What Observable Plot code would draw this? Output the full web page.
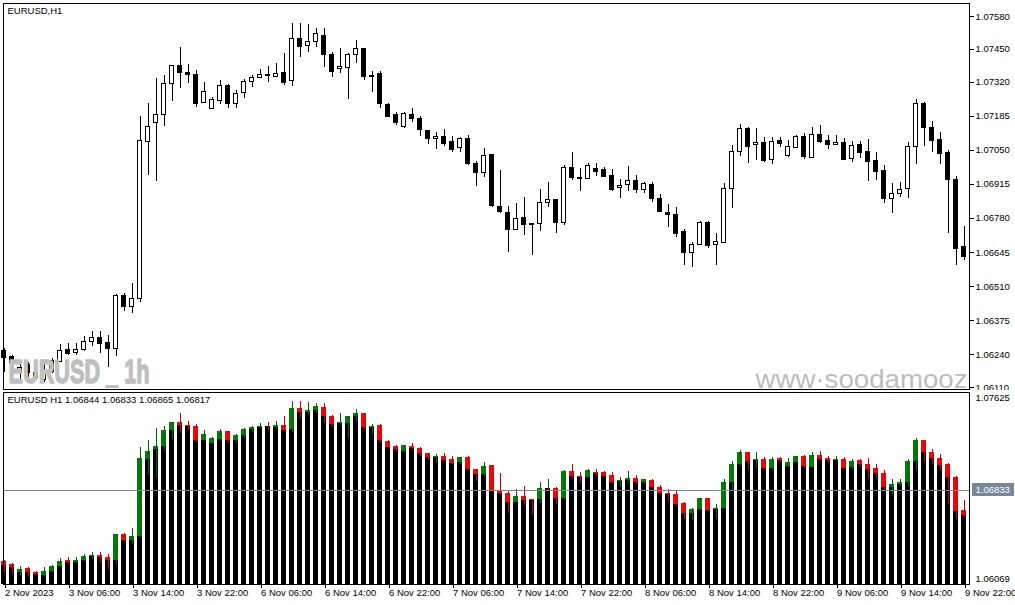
<!DOCTYPE html>
<html><head><meta charset="utf-8">
<script src="https://cdn.jsdelivr.net/npm/d3@7"></script>
<script src="https://cdn.jsdelivr.net/npm/@observablehq/plot@0.6"></script>
<style>
body{margin:0;background:#fff;}
#wrap{position:relative;width:1015px;height:605px;overflow:hidden;background:#fff}
#top,#bot{position:absolute;left:0}
#top{top:0}
#bot{top:390px}
svg rect, svg line, svg path{shape-rendering:crispEdges}
</style></head>
<body><div id="wrap"><div id="top"></div><div id="bot"></div></div>
<script>
// ---- data (EURUSD H1, 2 Nov 22:00 .. 9 Nov 22:00) ----
const opens = [1.06256,1.06232,1.06169,1.06201,1.06169,1.06141,1.06173,1.06213,1.06260,1.06248,
1.06260,1.06292,1.06308,1.06288,1.06264,1.06474,1.06427,1.06462,1.07084,1.07160,
1.07191,1.07314,1.07385,1.07358,1.07350,1.07239,1.07215,1.07247,1.07306,1.07235,
1.07278,1.07322,1.07338,1.07350,1.07342,1.07358,1.07326,1.07492,1.07465,1.07477,
1.07504,1.07429,1.07370,1.07377,1.07429,1.07453,1.07342,1.07354,1.07231,1.07191,
1.07144,1.07191,1.07175,1.07128,1.07096,1.07104,1.07084,1.07057,1.07096,1.06997,
1.06958,1.07033,1.06827,1.06803,1.06736,1.06783,1.06756,1.06756,1.06843,1.06851,
1.06763,1.06981,1.06942,1.06938,1.06977,1.06973,1.06950,1.06902,1.06914,1.06930,
1.06894,1.06914,1.06855,1.06803,1.06795,1.06728,1.06641,1.06676,1.06763,1.06676,
1.06684,1.06898,1.07045,1.07136,1.07072,1.07080,1.07013,1.07088,1.07029,1.07057,
1.07104,1.07021,1.07112,1.07088,1.07072,1.07080,1.07017,1.07072,1.07045,1.07009,
1.06969,1.06855,1.06878,1.06898,1.07064,1.07235,1.07140,1.07092,1.07041,1.06934,
1.06668];
const highs = [1.06264,1.06236,1.06217,1.06209,1.06173,1.06209,1.06225,1.06280,1.06284,1.06284,
1.06312,1.06332,1.06332,1.06316,1.06478,1.06482,1.06522,1.07183,1.07235,1.07334,
1.07346,1.07385,1.07457,1.07389,1.07366,1.07318,1.07259,1.07326,1.07310,1.07286,
1.07330,1.07346,1.07370,1.07381,1.07393,1.07433,1.07552,1.07552,1.07548,1.07532,
1.07532,1.07437,1.07453,1.07433,1.07485,1.07453,1.07362,1.07362,1.07235,1.07199,
1.07199,1.07215,1.07183,1.07128,1.07120,1.07132,1.07104,1.07100,1.07108,1.07005,
1.07057,1.07033,1.06969,1.06827,1.06839,1.06862,1.06759,1.06894,1.06922,1.06855,
1.06989,1.07041,1.06977,1.06997,1.06997,1.06981,1.06973,1.06934,1.06985,1.06950,
1.06922,1.06922,1.06874,1.06835,1.06823,1.06736,1.06684,1.06767,1.06767,1.06720,
1.06918,1.07068,1.07152,1.07140,1.07136,1.07100,1.07100,1.07100,1.07088,1.07108,
1.07116,1.07140,1.07148,1.07108,1.07108,1.07096,1.07084,1.07084,1.07092,1.07041,
1.06989,1.06918,1.06922,1.07080,1.07251,1.07239,1.07164,1.07120,1.07049,1.06946,
1.06748];
const lows = [1.06169,1.06161,1.06141,1.06129,1.06141,1.06129,1.06165,1.06209,1.06236,1.06236,
1.06252,1.06272,1.06244,1.06189,1.06232,1.06411,1.06403,1.06447,1.06950,1.06926,
1.07144,1.07243,1.07294,1.07314,1.07219,1.07235,1.07211,1.07231,1.07215,1.07215,
1.07255,1.07298,1.07334,1.07318,1.07338,1.07306,1.07302,1.07417,1.07437,1.07457,
1.07377,1.07338,1.07354,1.07251,1.07393,1.07326,1.07278,1.07215,1.07183,1.07148,
1.07136,1.07160,1.07104,1.07072,1.07053,1.07064,1.07041,1.07041,1.06989,1.06906,
1.06942,1.06823,1.06799,1.06645,1.06736,1.06712,1.06633,1.06728,1.06823,1.06720,
1.06752,1.06930,1.06886,1.06934,1.06946,1.06942,1.06886,1.06858,1.06886,1.06878,
1.06878,1.06843,1.06803,1.06744,1.06704,1.06593,1.06585,1.06672,1.06660,1.06593,
1.06680,1.06819,1.07025,1.06997,1.07009,1.07001,1.06993,1.07061,1.07021,1.07057,
1.07013,1.07021,1.07076,1.07053,1.07068,1.07013,1.07001,1.07017,1.06926,1.06930,
1.06839,1.06799,1.06862,1.06858,1.06993,1.07064,1.07041,1.06993,1.06720,1.06593,
1.06613];
const closes = [1.06225,1.06209,1.06189,1.06169,1.06149,1.06173,1.06217,1.06256,1.06244,1.06260,
1.06292,1.06308,1.06284,1.06264,1.06474,1.06427,1.06462,1.07088,1.07144,1.07191,
1.07314,1.07385,1.07358,1.07350,1.07235,1.07282,1.07251,1.07306,1.07235,1.07274,
1.07322,1.07338,1.07350,1.07346,1.07354,1.07318,1.07492,1.07461,1.07477,1.07509,
1.07429,1.07362,1.07381,1.07429,1.07453,1.07342,1.07346,1.07235,1.07183,1.07160,
1.07195,1.07175,1.07132,1.07096,1.07104,1.07076,1.07053,1.07096,1.06997,1.06958,
1.07029,1.06831,1.06807,1.06736,1.06779,1.06752,1.06752,1.06843,1.06851,1.06763,
1.06981,1.06942,1.06938,1.06989,1.06965,1.06946,1.06894,1.06910,1.06930,1.06894,
1.06918,1.06855,1.06807,1.06795,1.06720,1.06641,1.06676,1.06763,1.06672,1.06688,
1.06898,1.07045,1.07136,1.07064,1.07080,1.07009,1.07084,1.07076,1.07061,1.07104,
1.07025,1.07112,1.07084,1.07072,1.07080,1.07013,1.07068,1.07041,1.07005,1.06965,
1.06855,1.06878,1.06894,1.07064,1.07235,1.07140,1.07088,1.07037,1.06934,1.06660,
1.06629];

const topTicks = [1.07580,1.07450,1.07320,1.07185,1.07050,1.06915,1.06780,1.06645,1.06510,1.06375,1.06240,1.06110];
const xTickIdx = [0,8,16,24,32,40,48,56,64,72,80,88,96,104,112,120];
const xTickLabels = ["2 Nov 2023","3 Nov 06:00","3 Nov 14:00","3 Nov 22:00","6 Nov 06:00","6 Nov 14:00",
"6 Nov 22:00","7 Nov 06:00","7 Nov 14:00","7 Nov 22:00","8 Nov 06:00","8 Nov 14:00",
"8 Nov 22:00","9 Nov 06:00","9 Nov 14:00","9 Nov 22:00"];
const topTitle = "EURUSD,H1";
const subTitle = "EURUSD H1 1.06844 1.06833 1.06865 1.06817";
const subMax = 1.07625, subMin = 1.06069, currentPrice = 1.06833;
const watermark1 = "EURUSD _ 1h";
const watermark2 = "www\u00b7soodamooz";

// ---- build ----
const bars = d3.range(opens.length).map(i => ({i, o: opens[i], h: highs[i], l: lows[i], c: closes[i]}));
const up = d => d.c >= d.o;
const xDomain = [-0.0625, 120.6875];
const style = {fontFamily: "'Liberation Sans', Arial, sans-serif", fontSize: "9.5px", color: "black", background: "white", overflow: "visible"};

const topPlot = Plot.plot({
  width: 1015, height: 390,
  marginLeft: 3, marginRight: 46, marginTop: 3, marginBottom: 1,
  style,
  x: {domain: xDomain, axis: null, label: null},
  y: {domain: [1.061021, 1.076315], label: null},
  marks: [
    Plot.ruleX(bars, {x: "i", y1: "l", y2: "h", stroke: "black", strokeWidth: 1}),
    Plot.rect(bars, {x1: d => d.i - 0.25, x2: d => d.i + 0.25, y1: "o", y2: "c",
      fill: d => up(d) ? "white" : "black", stroke: "black", strokeWidth: 1}),
    Plot.text([watermark1], {text: d => d, frameAnchor: "bottom-left", textAnchor: "start", lineAnchor: "bottom",
      dx: 5, dy: -7, fontSize: 34, fontWeight: "bold", fill: "#bfbfbf", stroke: "#bfbfbf", strokeWidth: 1.6, className: "wm1"}),
    Plot.text([watermark2], {text: d => d, frameAnchor: "bottom-right", textAnchor: "end", lineAnchor: "bottom",
      dx: -2, dy: -2, fontSize: 26, fill: "#bdbdbd", className: "wm2"}),
    Plot.text([topTitle], {text: d => d, frameAnchor: "top-left", textAnchor: "start", lineAnchor: "top", dx: 4, dy: 4}),
    Plot.axisY({anchor: "right", ticks: topTicks, tickFormat: d => d.toFixed(5), tickSize: 4, tickPadding: 2, label: null}),
    Plot.frame({stroke: "black"})
  ]
});
document.getElementById("top").append(topPlot);
d3.select(topPlot).select(".wm1 text").attr("textLength", 141).attr("lengthAdjust", "spacingAndGlyphs");
d3.select(topPlot).select(".wm2 text").attr("textLength", 212).attr("lengthAdjust", "spacingAndGlyphs");

const botPlot = Plot.plot({
  width: 1015, height: 215,
  marginLeft: 3, marginRight: 46, marginTop: 2, marginBottom: 21,
  style,
  x: {domain: xDomain, label: null},
  y: {domain: [subMin, subMax], axis: null, label: null},
  marks: [
    Plot.rect(bars, {x1: d => d.i - 0.3125, x2: d => d.i + 0.3125, y1: subMin, y2: d => Math.min(d.o, d.c), fill: "black"}),
    Plot.rect(bars, {x1: d => d.i - 0.3125, x2: d => d.i + 0.3125, y1: "o", y2: "c",
      fill: d => up(d) ? "#008000" : "#ff0000"}),
    Plot.ruleX(bars, {x: "i", y1: "l", y2: "h", stroke: d => up(d) ? "#006400" : "#c80000", strokeWidth: 1}),
    Plot.ruleY([currentPrice], {stroke: "#778899"}),
    Plot.text([subTitle], {text: d => d, frameAnchor: "top-left", textAnchor: "start", lineAnchor: "top", dx: 4, dy: 4}),
    Plot.text([subMax], {y: d => d, text: d => d.toFixed(5), frameAnchor: "right", textAnchor: "start", lineAnchor: "top", dx: 6, dy: 2}),
    Plot.text([subMin], {y: d => d, text: d => d.toFixed(5), frameAnchor: "right", textAnchor: "start", lineAnchor: "bottom", dx: 6, dy: -3}),
    Plot.text([currentPrice], {y: d => d, text: d => d.toFixed(5), frameAnchor: "right", textAnchor: "start", lineAnchor: "middle",
      dx: 6, fill: "white", className: "curlab"}),
    Plot.axisX({ticks: xTickIdx, tickFormat: d => xTickLabels[xTickIdx.indexOf(d)], tickSize: 4, tickPadding: 1,
      textAnchor: "start", dx: 1, label: null}),
    Plot.frame({stroke: "black"})
  ]
});
document.getElementById("bot").append(botPlot);
const lab = d3.select(botPlot).select(".curlab text").node();
if (lab) {
  const bb = lab.getBBox();
  d3.select(lab.parentNode).insert("rect", "text")
    .attr("transform", lab.getAttribute("transform"))
    .attr("x", bb.x - 4).attr("y", bb.y - 1).attr("width", bb.width + 8).attr("height", bb.height + 2)
    .attr("fill", "#778899");
}
</script>
</body></html>
